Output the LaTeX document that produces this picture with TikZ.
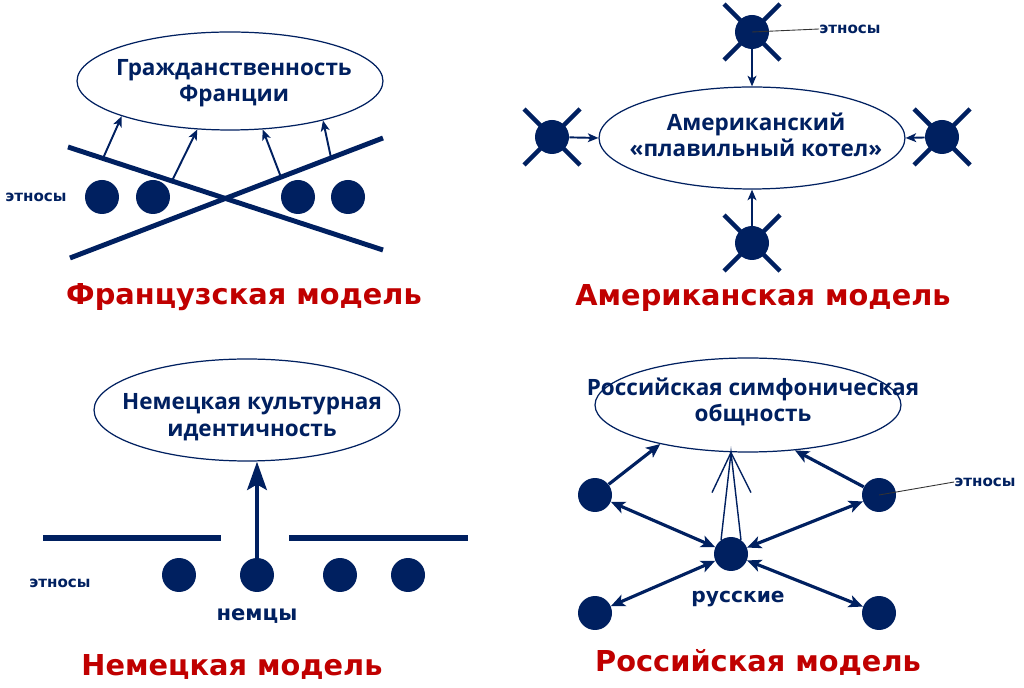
\documentclass[tikz,border=0pt]{standalone}
\usepackage{fontspec}
\setmainfont{Open Sans}
\newfontfamily\dvsans{DejaVu Sans}
\usetikzlibrary{positioning,calc,shapes.geometric,arrows.meta}
\definecolor{cNavy}{HTML}{002060}
\definecolor{cRed}{HTML}{C00000}
\definecolor{cWire}{HTML}{333333}
\tikzset{
  oval/.style={ellipse,draw=cNavy,line width=0.7pt,minimum width=6.12cm,minimum height=1.96cm,inner sep=0pt},
  ovtxt/.style={text=cNavy,font=\bfseries\fontsize{12.8}{15}\selectfont,align=center,inner sep=0pt},
  eth/.style={circle,fill=cNavy,minimum size=0.68cm,inner sep=0pt},
  bar/.style={draw=cNavy,line width=2.8pt},
  upar/.style={-{Stealth[inset=1.5pt,length=6pt,width=5pt]},draw=cNavy,line width=1.1pt},
  bigar/.style={-{Stealth[inset=3pt,length=16pt,width=11pt]},draw=cNavy,line width=2.8pt},
  dblar/.style={{Stealth[inset=2pt,length=8pt,width=7pt]}-{Stealth[inset=2pt,length=8pt,width=7pt]},draw=cNavy,line width=1.8pt},
  mtitle/.style={text=cRed,font=\dvsans\bfseries\fontsize{16.4}{18}\selectfont,inner sep=0pt},
  lbl/.style={text=cNavy,font=\dvsans\bfseries\fontsize{8.6}{10}\selectfont,inner sep=0pt},
  wire/.style={draw=cWire,line width=0.5pt},
}
\begin{document}
\begin{tikzpicture}[x=0.02cm,y=-0.02cm]
  \fill[white] (0,0) rectangle (1024,688);
  \useasboundingbox (0,0) rectangle (1024,688);

  % French model
  \node[oval] (E1) at (230,81) {};
  \node[ovtxt] (t1) at (234,83) {Гражданственность\\Франции};
  \coordinate (a1) at (68,147); \coordinate (a2) at (383,250);
  \coordinate (b1) at (70,258); \coordinate (b2) at (383,138);
  \draw[bar] (a1) -- (a2) coordinate[pos=0.111] (pa1) coordinate[pos=0.33] (pa2);
  \draw[bar] (b1) -- (b2) coordinate[pos=0.674] (pb1) coordinate[pos=0.834] (pb2);
  \foreach \n/\x in {f1/102,f2/153,f3/298,f4/348} \node[eth] (\n) at (\x,197) {};
  \draw[upar] (pa1) -- (E1.198);
  \draw[upar] (pa2) -- (E1.236);
  \draw[upar] (pb1) -- (E1.304);
  \draw[upar] (pb2) -- (E1.337);
  \node[lbl] (e1) at (36,197) {этносы};
  \node[mtitle] (m1) at (244,297) {Французская модель};

  % American model
  \node[oval,minimum height=2.04cm] (E2) at (752,138) {};
  \node[ovtxt] (t2) at (756,135) {Американский\\«плавильный котел»};
  \foreach \n/\p in {T/{752,32},L/{552,137},R/{942,137},B/{752,243}} {
    \draw[bar,line width=2.6pt] (\p) +(-28,-28) -- +(28,28) (\p) +(-28,28) -- +(28,-28);
    \node[eth] (\n) at (\p) {};
  }
  \draw[upar] (T) -- (E2.north);
  \draw[upar] (L) -- (E2.west);
  \draw[upar] (R) -- (E2.east);
  \draw[upar] (B) -- (E2.south);
  \node[lbl] (e2) at (850,29) {этносы};
  \draw[wire] (T.center) -- (e2.west);
  \node[mtitle] (m2) at (763,298) {Американская модель};

  % German model
  \node[oval,minimum height=2.04cm] (E3) at (247,410) {};
  \node[ovtxt] (t3) at (252,417) {Немецкая культурная\\идентичность};
  \coordinate (l1) at (43,538); \coordinate (l2) at (221,538);
  \coordinate (r1) at (289,538); \coordinate (r2) at (468,538);
  \draw[bar,line width=3.2pt] (l1) -- (l2);
  \draw[bar,line width=3.2pt] (r1) -- (r2);
  \foreach \n/\x in {g1/179,g2/257,g3/340,g4/408} \node[eth] (\n) at (\x,575) {};
  \draw[bigar] (g2.center) -- (g2.center |- E3.south);
  \node[lbl] (e3) at (60,583) {этносы};
  \node[lbl,font=\dvsans\bfseries\fontsize{12}{14}\selectfont] (ng) at (257,616) {немцы};
  \node[mtitle] (m3) at (232,667) {Немецкая модель};

  % Russian model
  \node[oval,minimum height=1.88cm] (E4) at (748,405) {};
  \node[ovtxt] (t4) at (753,402) {Российская симфоническая\\общность};
  \node[eth] (TL) at (595,495) {};
  \node[eth] (TR) at (879,495) {};
  \node[eth] (C) at (731,554) {};
  \node[eth] (BL) at (595,613) {};
  \node[eth] (BR) at (879,613) {};
  \draw[upar,line width=1.8pt,-{Stealth[inset=2pt,length=8pt,width=7pt]}] (TL) -- (E4.204);
  \draw[upar,line width=1.8pt,-{Stealth[inset=2pt,length=8pt,width=7pt]}] (TR) -- (E4.316);
  \foreach \n in {TL,TR,BL,BR} \draw[dblar] (\n) -- (C);
  \coordinate (ap) at (C.north |- E4.south);
  \draw[draw=cNavy,line width=0.8pt] (C.125) -- (ap) -- (C.55);
  \draw[draw=cNavy,line width=0.8pt] (ap) ++(-19,40) -- (ap) -- ++(20,40);
  \node[lbl] (e4) at (985,482) {этносы};
  \draw[wire] (TR.center) -- (e4.west);
  \node[lbl,font=\dvsans\bfseries\fontsize{11.5}{13}\selectfont] (ru) at (738,599) {русские};
  \node[mtitle] (m4) at (758,662) {Российская модель};
\end{tikzpicture}
\end{document}
